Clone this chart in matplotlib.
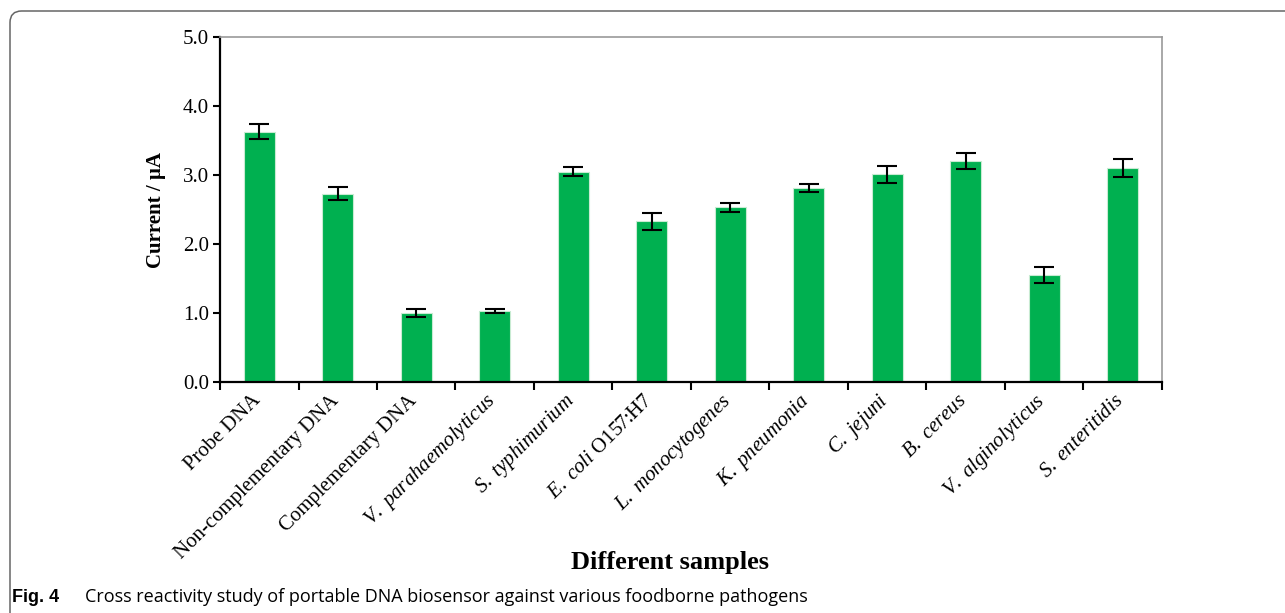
import matplotlib
matplotlib.use("Agg")
import matplotlib.pyplot as plt
from matplotlib.patches import FancyBboxPatch
import numpy as np

# sample labels (mathtext italics for species names)
amostras = [
    "Probe DNA",
    "Non-complementary DNA",
    "Complementary DNA",
    r"$\it{V.\ parahaemolyticus}$",
    r"$\it{S.\ typhimurium}$",
    r"$\it{E.\ coli}$ O157:H7",
    r"$\it{L.\ monocytogenes}$",
    r"$\it{K.\ pneumonia}$",
    r"$\it{C.\ jejuni}$",
    r"$\it{B.\ cereus}$",
    r"$\it{V.\ alginolyticus}$",
    r"$\it{S.\ enteritidis}$",
]
corrente = [3.63, 2.73, 1.00, 1.03, 3.05, 2.33, 2.53, 2.81, 3.01, 3.20, 1.55, 3.10]
desvio = [0.11, 0.095, 0.06, 0.035, 0.065, 0.12, 0.07, 0.06, 0.12, 0.115, 0.115, 0.125]
yticks = [0.0, 1.0, 2.0, 3.0, 4.0, 5.0]

plt.rcParams["mathtext.fontset"] = "custom"
plt.rcParams["mathtext.rm"] = "Liberation Serif"
plt.rcParams["mathtext.it"] = "Liberation Serif:italic"
plt.rcParams["mathtext.bf"] = "Liberation Serif:bold"

fig = plt.figure(figsize=(12.85, 6.13), dpi=100)

# moldura arredondada da figura (sai pela direita e por baixo)
caixa = FancyBboxPatch((10 / 1285, -0.2), 1.2, 1.2 - 11 / 613,
                       boxstyle="round,pad=0,rounding_size=0.009",
                       transform=fig.transFigure, fill=False,
                       edgecolor="#666666", linewidth=1.1,
                       mutation_aspect=1285 / 613)
fig.patches.append(caixa)

ax = fig.add_axes([220 / 1285, 1 - 382 / 613, (1162 - 220) / 1285, (382 - 37) / 613])

x = np.arange(len(amostras))
ax.bar(x, corrente, width=0.4, color="#00B050", edgecolor="#C8EBD2", linewidth=0.8, zorder=2)
ax.errorbar(x, corrente, yerr=desvio, fmt="none", ecolor="black",
            elinewidth=1.5, capsize=7, capthick=1.5, zorder=3)

ax.set_xlim(-0.5, len(amostras) - 0.5)
ax.set_ylim(0, 5.0)
ax.set_yticks(yticks)
ax.set_yticklabels([f"{v:.1f}" for v in yticks], family="Liberation Serif", fontsize=15)

# ticks nas divisas das categorias
ax.set_xticks(np.arange(len(amostras) + 1) - 0.5)
ax.set_xticklabels([])
ax.tick_params(axis="x", length=6, width=1.5, direction="out")
ax.tick_params(axis="y", length=5, width=1.5, direction="out", pad=3)

for i, nome in enumerate(amostras):
    ax.text(i - 0.02, -0.23, nome, rotation=45, rotation_mode="anchor",
            ha="right", va="center", fontsize=15, family="Liberation Serif")

for lado in ["left", "bottom"]:
    ax.spines[lado].set_linewidth(1.6)
    ax.spines[lado].set_color("black")
for lado in ["top", "right"]:
    ax.spines[lado].set_linewidth(1.2)
    ax.spines[lado].set_color("#999999")

ax.set_ylabel("Current / µA", family="Liberation Serif", fontweight="bold",
              fontsize=15, labelpad=12)

fig.text(670 / 1285, 1 - 562 / 613, "Different samples", ha="center", va="center",
         family="Liberation Serif", fontweight="bold", fontsize=19)

fig.text(12 / 1285, 1 - 597 / 613, "Fig. 4", ha="left", va="center",
         family="Liberation Sans", fontweight="bold", fontsize=13)
fig.text(85 / 1285, 1 - 597 / 613,
         "Cross reactivity study of portable DNA biosensor against various foodborne pathogens",
         ha="left", va="center", family="Open Sans", fontsize=13)

fig.savefig("out.png", dpi=100)
